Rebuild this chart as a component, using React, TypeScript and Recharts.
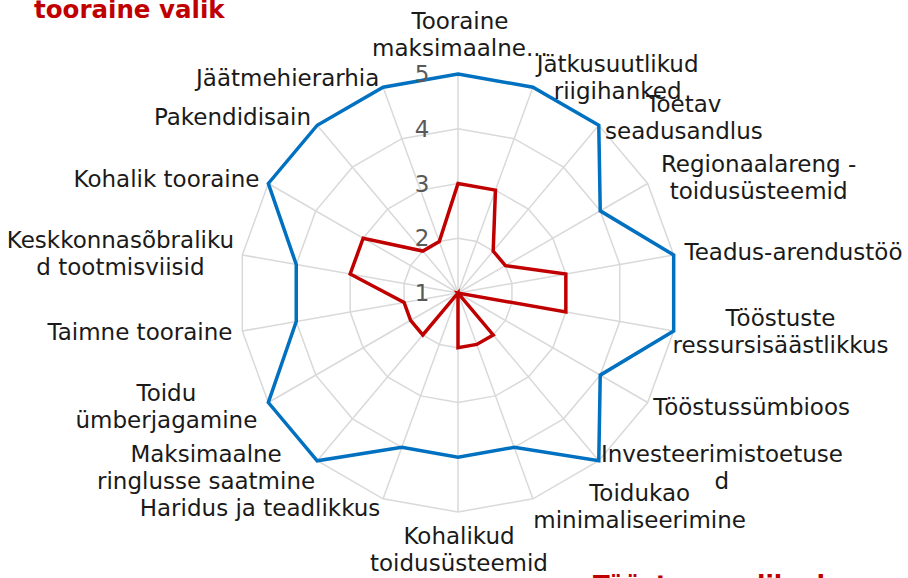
import React from "react"
import { RadarChart, Radar, PolarGrid, PolarAngleAxis, PolarRadiusAxis } from "recharts"

const categories = [
  "Tooraine\nmaksimaalne...",
  "Jätkusuutlikud\nriigihanked",
  "Toetav\nseadusandlus",
  "Regionaalareng -\ntoidusüsteemid",
  "Teadus-arendustöö",
  "Tööstuste\nressursisäästlikkus",
  "Tööstussümbioos",
  "Investeerimistoetuse\nd",
  "Toidukao\nminimaliseerimine",
  "Kohalikud\ntoidusüsteemid",
  "Haridus ja teadlikkus",
  "Maksimaalne\nringlusse saatmine",
  "Toidu\nümberjagamine",
  "Taimne tooraine",
  "Keskkonnasõbraliku\nd tootmisviisid",
  "Kohalik tooraine",
  "Pakendidisain",
  "Jäätmehierarhia",
]

const blueValues = [5, 5, 5, 4, 5, 5, 4, 5, 4, 4, 4, 5, 5, 4, 4, 5, 5, 5]
const redValues = [3, 3, 2, 2, 3, 3, 1, 2, 2, 2, 1, 2, 2, 2, 3, 3, 2, 2]

const radiusTicks = [1, 2, 3, 4, 5]

const data = categories.map((c, i) => ({ name: c, blue: blueValues[i], red: redValues[i] }))

// label placement relative to the tick point: [anchor, dx, dy of first baseline]
const labelLayout: [string, number, number][] = [
  ["middle", 2, -37],
  ["middle", 82, -8],
  ["middle", 80, -7],
  ["middle", 104, -8],
  ["start", 3, 6.5],
  ["middle", 99, -6],
  ["middle", 97, 8.5],
  ["middle", 118, -5],
  ["middle", 104, -5],
  ["middle", 1, 24],
  ["end", 0, 10],
  ["middle", -106, -5],
  ["middle", -95, -6],
  ["end", -2, 7.5],
  ["middle", -114, -6],
  ["end", -2, 7],
  ["end", -1, 6],
  ["end", -1, 6.5],
]

const font = "'DejaVu Sans', sans-serif"

const AngleTick = (props: any) => {
  const { x, y, payload } = props
  const idx = categories.indexOf(payload.value)
  const [anchor, dx, dy] = labelLayout[idx] || ["middle", 0, 0]
  const lines = String(payload.value).split("\n")
  return (
    <text x={x + dx} y={y + dy} textAnchor={anchor as any} fontFamily={font} fontSize={23} fill="#1a1a1a">
      {lines.map((l, i) => (
        <tspan key={i} x={x + dx} dy={i === 0 ? 0 : 27}>{l}</tspan>
      ))}
    </text>
  )
}

const RadiusTick = (props: any) => {
  const { x, y, payload } = props
  return (
    <text x={x - 36} y={y} textAnchor="middle" dominantBaseline="central" fontFamily={font} fontSize={23} fill="#595959">
      {payload.value}
    </text>
  )
}

export default function App() {
  return (
    <div style={{ position: "absolute", left: 0, top: 0, width: 908, height: 578, overflow: "hidden", background: "#fff" }}>
      <RadarChart width={908} height={578} data={data} cx={458} cy={293} outerRadius={219} margin={{ top: 0, right: 0, bottom: 0, left: 0 }}>
        <PolarGrid gridType="polygon" stroke="#d9d9d9" strokeWidth={1.5} />
        <PolarAngleAxis dataKey="name" tick={<AngleTick />} tickLine={false} axisLine={false} />
        <PolarRadiusAxis angle={90} domain={[1, 5]} ticks={radiusTicks as any} tickCount={5} axisLine={false} tickLine={false} tick={<RadiusTick />} />
        <Radar dataKey="blue" stroke="#0070C0" strokeWidth={3.5} fill="none" fillOpacity={0} dot={false} isAnimationActive={false} />
        <Radar dataKey="red" stroke="#C00000" strokeWidth={3.5} fill="none" fillOpacity={0} dot={false} isAnimationActive={false} />
      </RadarChart>
      <div style={{ position: "absolute", left: 34, top: -2, lineHeight: 1, fontFamily: font, fontWeight: "bold", fontSize: 24.5, color: "#C00000", whiteSpace: "nowrap" }}>
        tooraine valik
      </div>
      <div style={{ position: "absolute", left: 593, top: 573, lineHeight: 1, fontFamily: font, fontWeight: "bold", fontSize: 24.5, color: "#C00000", whiteSpace: "nowrap" }}>
        Tööstuse valikud
      </div>
    </div>
  )
}
